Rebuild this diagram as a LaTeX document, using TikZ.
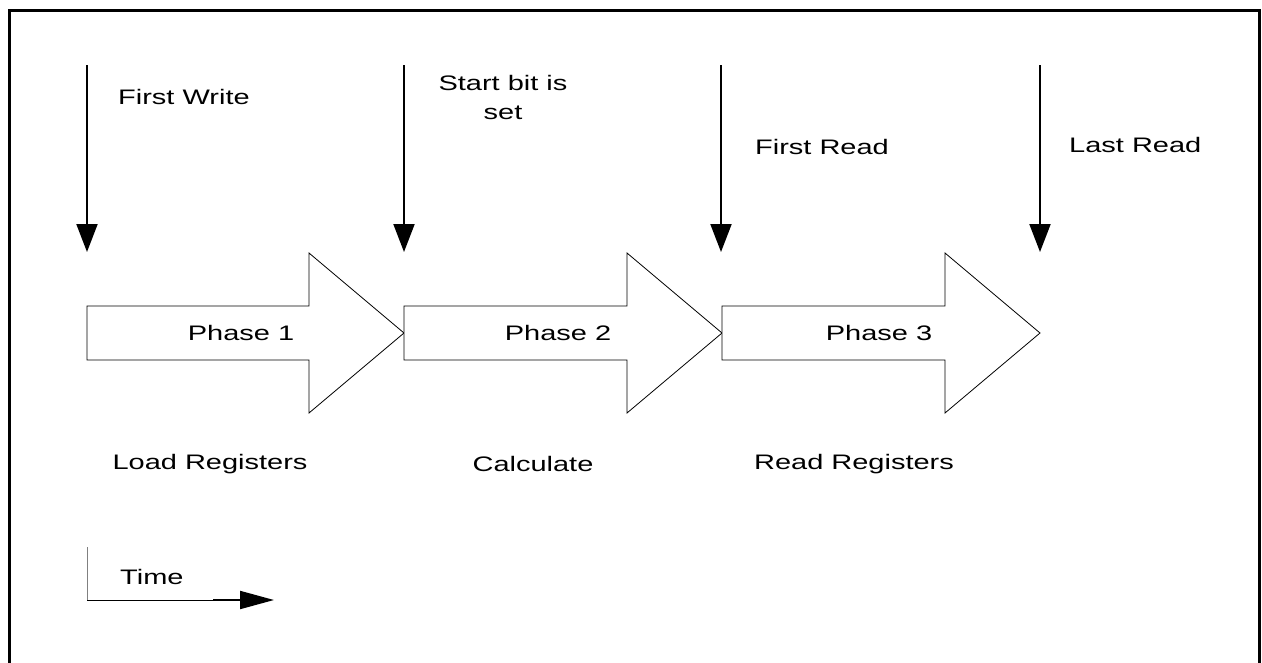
\documentclass[tikz,border=0pt]{standalone}
\usepackage{fontspec}
\usepackage{tikz}
\usetikzlibrary{arrows.meta}
\newfontfamily\diagfont[FakeStretch=1.38]{Liberation Sans}

\begin{document}
\begin{tikzpicture}[x=1pt, y=-1pt,
    lbl/.style={font=\diagfont\fontsize{21}{29}\selectfont, inner sep=0pt},
    event/.style={line width=2pt, -{Triangle[length=28pt, width=21pt]}},
    phase/.style={draw, line width=0.8pt, fill=white, line join=miter}]

    \useasboundingbox (0,0) rectangle (1262,662);
    \draw[line width=3pt] (9,10.5) rectangle (1259.5,720);

    % events
    \coordinate (w1a) at (87,65);   \coordinate (w1b) at (87,252);
    \coordinate (w2a) at (404,65);  \coordinate (w2b) at (404,252);
    \coordinate (w3a) at (721,65);  \coordinate (w3b) at (721,252);
    \coordinate (w4a) at (1040,65); \coordinate (w4b) at (1040,252);
    \draw[event] (w1a) -- (w1b);
    \draw[event] (w2a) -- (w2b);
    \draw[event] (w3a) -- (w3b);
    \draw[event] (w4a) -- (w4b);

    \node[lbl, anchor=west] (FW) at (118,97) {First Write};
    \node[lbl, align=center] (SB) at (503,97) {Start bit is\\set};
    \node[lbl, anchor=west] (FR) at (755,147) {First Read};
    \node[lbl, anchor=west] (LR) at (1069,145) {Last Read};

    % phases
    \draw[phase] (87,306) -- (309,306) -- (309,253) -- (404,333) -- (309,413) -- (309,360) -- (87,360) -- cycle;
    \draw[phase] (404,306) -- (627,306) -- (627,253) -- (722,333) -- (627,413) -- (627,360) -- (404,360) -- cycle;
    \draw[phase] (722,306) -- (945,306) -- (945,253) -- (1040,333) -- (945,413) -- (945,360) -- (722,360) -- cycle;

    \node[lbl] (P1) at (241,333) {Phase 1};
    \node[lbl] (P2) at (558,333) {Phase 2};
    \node[lbl] (P3) at (879,333) {Phase 3};

    \node[lbl] (LoadR) at (210,464) {Load Registers};
    \node[lbl] (Calc) at (533,464) {Calculate};
    \node[lbl] (ReadR) at (854,464) {Read Registers};

    % time axis
    \coordinate (t0) at (87,547);
    \coordinate (tc) at (87,600);
    \coordinate (ts) at (213,600);
    \coordinate (te) at (274,600);
    \draw[gray, line width=0.8pt] (t0) -- (tc);
    \draw[line width=0.8pt] (tc) -- (ts);
    \draw[line width=2pt, -{Triangle[length=34pt, width=18pt]}] (ts) -- (te);
    \node[lbl, anchor=west] (T) at (120,577) {Time};
\end{tikzpicture}
\end{document}
